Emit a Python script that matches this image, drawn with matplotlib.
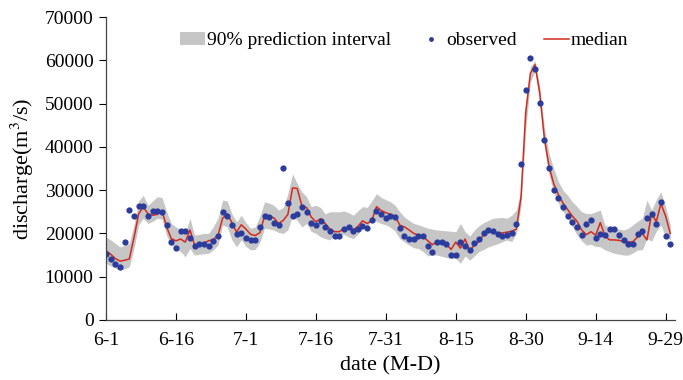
import matplotlib
matplotlib.use("Agg")
import matplotlib.pyplot as plt
from matplotlib.patches import Patch
from matplotlib.lines import Line2D
import numpy as np

plt.rcParams['font.family'] = ['Liberation Serif', 'DejaVu Serif']
plt.rcParams['mathtext.fontset'] = 'stix'

# days since 6-1
tick_days = [0, 15, 30, 45, 60, 75, 90, 105, 120]
tick_labels = ['6-1', '6-16', '7-1', '7-16', '7-31', '8-15', '8-30', '9-14', '9-29']

observed = [
    15200, 14100, 13000, 12200, 18100, 25500, 24100, 26400, 26400, 24100,
    25100, 25100, 24900, 21900, 18100, 16700, 20500, 20500, 18900, 17200,
    17600, 17600, 17200, 18200, 19500, 24900, 24000, 21900, 19900, 20100,
    19000, 18400, 18400, 21600, 24000, 23700, 22500, 22000, 35200, 27100,
    24100, 24600, 26100, 24900, 22300, 22000, 22800, 21600, 20600, 19500,
    19500, 21100, 21400, 20500, 21100, 21700, 21200, 23100, 25100, 24500,
    23600, 24100, 23900, 21300, 19500, 18600, 18600, 19400, 19400, 17200,
    15800, 18100, 18000, 17600, 14900, 14900, 18100, 17100, 16100, 17700,
    18600, 20000, 20900, 20500, 19800, 19500, 19600, 20200, 22100, 36100,
    53100, 60600, 58100, 50100, 41600, 35100, 30100, 28100, 26100, 24100,
    22600, 21500, 19600, 22100, 23100, 19000, 19900, 19600, 21100, 21100,
    19600, 18400, 17600, 17600, 19900, 20600, 23600, 24400, 22200, 27200,
    19400, 17500,
]

median = [
    16000, 15200, 14200, 13600, 13800, 14100, 19000, 24500, 26200, 24500,
    24200, 24400, 25300, 21500, 18800, 18300, 18700, 18000, 20800, 17300,
    17500, 17800, 18300, 18600, 19500, 23500, 24500, 22500, 20300, 22000,
    21000, 19800, 19500, 20200, 24000, 23900, 23600, 22300, 23000, 24400,
    30500, 30400, 26400, 26000, 23800, 22700, 23400, 22300, 21000, 20400,
    20400, 21100, 21500, 20800, 21600, 22900, 22300, 23000, 26200, 25300,
    24800, 24400, 24000, 21900, 21500, 20800, 20000, 19600, 19300, 18300,
    17400, 18100, 18000, 17500, 16300, 18000, 16600, 18700, 16000, 17300,
    18200, 19800, 20500, 20300, 20100, 20100, 20300, 20500, 21000, 28500,
    48000, 57000, 59000, 52500, 42000, 35500, 31500, 29000, 27000, 25500,
    24000, 22800, 20800, 19700, 20400, 19600, 22500, 19400, 18500, 18500,
    18400, 18100, 18000, 18100, 19200, 20000, 18500, 24600, 22700, 26900,
    24000, 20000,
]

upper = [
    19200, 18500, 17700, 16900, 17200, 17700, 22000, 27500, 28800, 26500,
    27500, 28500, 28300, 25000, 22300, 21500, 20800, 20000, 23500, 19600,
    19800, 20000, 20000, 21500, 23500, 27700, 27500, 24500, 22700, 24200,
    22500, 21200, 21500, 24000, 27300, 27000, 26500, 25400, 26000, 29200,
    33800, 31500, 29600, 28500, 26200, 26500, 26000, 24500, 25000, 25000,
    25000, 25200, 24800, 24200, 25200, 26200, 26000, 27500, 29200, 28300,
    27800, 27300, 26500, 25000, 23800, 23000, 22300, 22000, 21600, 21200,
    21000, 20800, 20700, 20600, 20500, 20400, 22300, 20400, 19400, 20800,
    21800, 22500, 23000, 23500, 23600, 23700, 23500, 24200, 25400, 30000,
    49500, 58500, 60000, 54000, 44500, 38500, 35000, 32000, 30000, 28800,
    27300, 26200, 25000, 24600, 24600, 25000, 25400, 21900, 21500, 21200,
    21000, 20800, 21200, 22000, 22800, 23500, 27700, 25400, 27800, 29600,
    26200, 22000,
]

lower = [
    13100, 12500, 12000, 11500, 11800, 12300, 16500, 22000, 23500, 22300,
    22800, 23500, 23300, 19500, 17300, 16500, 15800, 14600, 16500, 15000,
    15200, 15300, 15400, 16200, 17300, 21900, 21500, 18500, 16900, 18500,
    17000, 16200, 16300, 18000, 21200, 21000, 20800, 20200, 20000, 20800,
    24200, 23000, 21500, 22300, 20500, 20000, 19200, 18800, 18500, 19600,
    19700, 19800, 19200, 18800, 19800, 21200, 21600, 23100, 22800, 22300,
    22000, 21400, 20500, 18800, 18000, 17300, 16700, 16500, 15800, 14800,
    15000, 15000, 14700, 14400, 14200, 14200, 13100, 14800, 13800, 14800,
    15800, 16300, 16900, 17300, 17600, 18100, 18500, 18100, 20000, 26500,
    44000, 55000, 57500, 50500, 40000, 33500, 29500, 27000, 25000, 23500,
    21500, 19600, 18300, 17300, 17500, 17000, 16900, 16200, 15800, 15400,
    15200, 15000, 15000, 15500, 16200, 16200, 18800, 18200, 20500, 21900,
    19200, 18500,
]

days = np.arange(len(observed))

fig = plt.figure(figsize=(6.83, 3.8), dpi=100)
ax = fig.add_axes([0.1552, 0.158, 0.833, 0.797])

ax.fill_between(days, lower, upper, color='#c6c6c6', linewidth=0)
ax.plot(days, median, color='#d42a1e', linewidth=1.1)
ax.plot(days, observed, 'o', color='#2b3c9c', markersize=4.5, markeredgewidth=0)

ax.set_xlim(0, 122)
ax.set_ylim(0, 70000)
ax.set_xticks(tick_days)
ax.set_xticklabels(tick_labels)
ax.set_yticks(np.arange(0, 70001, 10000))
ax.tick_params(axis='x', direction='in', length=5, labelsize=14, pad=9, width=0.8)
ax.tick_params(axis='y', direction='out', length=5, labelsize=14, pad=4, width=0.8)

for side in ['top', 'right']:
    ax.spines[side].set_visible(False)
for side in ['left', 'bottom']:
    ax.spines[side].set_color('#444444')
    ax.spines[side].set_linewidth(0.9)

ax.set_xlabel('date (M-D)', fontsize=16, labelpad=5)
ax.set_ylabel('discharge(m$^3$/s)', fontsize=16, labelpad=6)

handles = [
    Patch(facecolor='#c6c6c6', edgecolor='none'),
    Line2D([], [], marker='o', linestyle='none', color='#2b3c9c', markersize=3.5, markeredgewidth=0),
    Line2D([], [], color='#d42a1e', linewidth=1.1),
]
fig.legend(handles, ['90% prediction interval', 'observed', 'median'],
           loc='center', bbox_to_anchor=(0.592, 0.893), ncol=3, frameon=False,
           fontsize=14, handlelength=1.3, handletextpad=0.1, columnspacing=1.4,
           borderaxespad=0)

fig.savefig('out.png', dpi=100)
